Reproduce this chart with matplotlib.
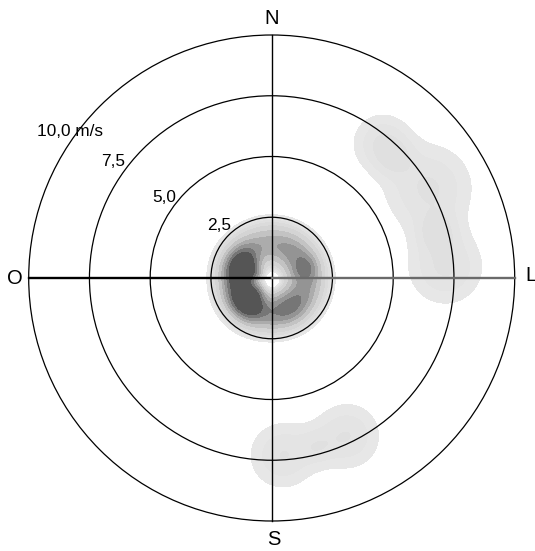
import numpy as np
import matplotlib
matplotlib.use("Agg")
import matplotlib.pyplot as plt
from matplotlib.patches import Circle

plt.rcParams['font.family'] = ['Liberation Sans', 'DejaVu Sans']

# --- data ---
# near-calm cluster, described in polar form: direction (deg, math convention),
# speed (m/s), strength, angular spread (deg), speed spread (m/s)
lobe_dir = [0.0, 163.0, 222.0, 300.0, 16.0, 30.0]
lobe_speed = [1.35, 1.25, 1.35, 1.40, 1.45, 1.30]
lobe_amp = [1.5, 5.0, 5.0, 1.5, 1.0, 0.8]
lobe_dspread = [1e6, 22.0, 20.0, 25.0, 12.0, 35.0]
lobe_sspread = [0.48, 0.42, 0.42, 0.40, 0.30, 0.40]

# stronger-wind clusters (u east, v north, m/s), strength, spread
obs_u = [4.55, 5.07, 6.45, 6.80, 7.15, 0.45, 1.85, 3.10]
obs_v = [5.55, 4.94, 3.70, 1.90, 0.45, -7.30, -6.95, -6.50]
obs_w = [0.16, 0.10, 0.17, 0.14, 0.17, 0.16, 0.08, 0.16]
obs_s = [0.75, 0.50, 1.12, 0.55, 0.95, 0.85, 0.50, 0.85]

calm_radius = 0.45
calm_center = (0.0, -0.1)

rings = [2.5, 5.0, 7.5, 10.0]
ring_labels = ["2,5", "5,0", "7,5", "10,0 m/s"]
directions = ["N", "L", "S", "O"]

levels = [0.05, 0.1, 0.16, 0.24, 0.4, 0.75, 1.25, 1.8, 2.5, 3.3, 1e3]
greys = [231, 228, 224, 219, 212, 195, 172, 148, 118, 85]

# --- figure ---
fig = plt.figure(figsize=(5.35, 5.51), dpi=100)
ax = fig.add_axes([0, 0, 1, 1])
scale = 24.3
ax.set_xlim(-271.7 / scale, (535 - 271.7) / scale)
ax.set_ylim((278 - 551) / scale, 278 / scale)
ax.axis('off')

g = np.linspace(-10.5, 10.5, 700)
X, Y = np.meshgrid(g, g)
R = np.hypot(X, Y)
T = np.degrees(np.arctan2(Y, X))
Z = np.zeros_like(X)
for d0, r0, a, sd, sr in zip(lobe_dir, lobe_speed, lobe_amp, lobe_dspread, lobe_sspread):
    dd = (T - d0 + 180.0) % 360.0 - 180.0
    Z += a * np.exp(-dd ** 2 / (2 * sd ** 2)) * np.exp(-(R - r0) ** 2 / (2 * sr ** 2))
Rc = np.hypot(X - calm_center[0], Y - calm_center[1])
Z *= 1.0 - np.exp(-(Rc / calm_radius) ** 4)
for u, v, w, s in zip(obs_u, obs_v, obs_w, obs_s):
    Z += w * np.exp(-((X - u) ** 2 + (Y - v) ** 2) / (2 * s ** 2))

cols = [(c / 255, c / 255, c / 255) for c in greys]
ax.contourf(X, Y, Z, levels=levels, colors=cols, antialiased=False, zorder=1)

for r in rings:
    ax.add_patch(Circle((0, 0), r, fill=False, ec='black', lw=0.9, zorder=3))

ax.plot([0, 0], [-rings[-1], rings[-1]], color='black', lw=1.0, zorder=4)
ax.plot([-rings[-1], 0], [0, 0], color='black', lw=1.7, zorder=4)
ax.plot([0, rings[-1]], [0, 0], color='#6a6a6a', lw=1.7, zorder=4)

label_pos = [(-2.67, 1.97), (-4.9, 3.11), (-7.0, 4.62), (-9.66, 5.84)]
for (x, y), t in zip(label_pos, ring_labels):
    ax.text(x, y, t, fontsize=12.4, ha='left', va='baseline', zorder=5)

dir_pos = [(0, 10.66), (10.65, 0.1), (0.1, -10.78), (-10.58, 0.0)]
for (x, y), t in zip(dir_pos, directions):
    ax.text(x, y, t, fontsize=14.5, ha='center', va='center', zorder=5)

fig.savefig("out.png", dpi=100)
